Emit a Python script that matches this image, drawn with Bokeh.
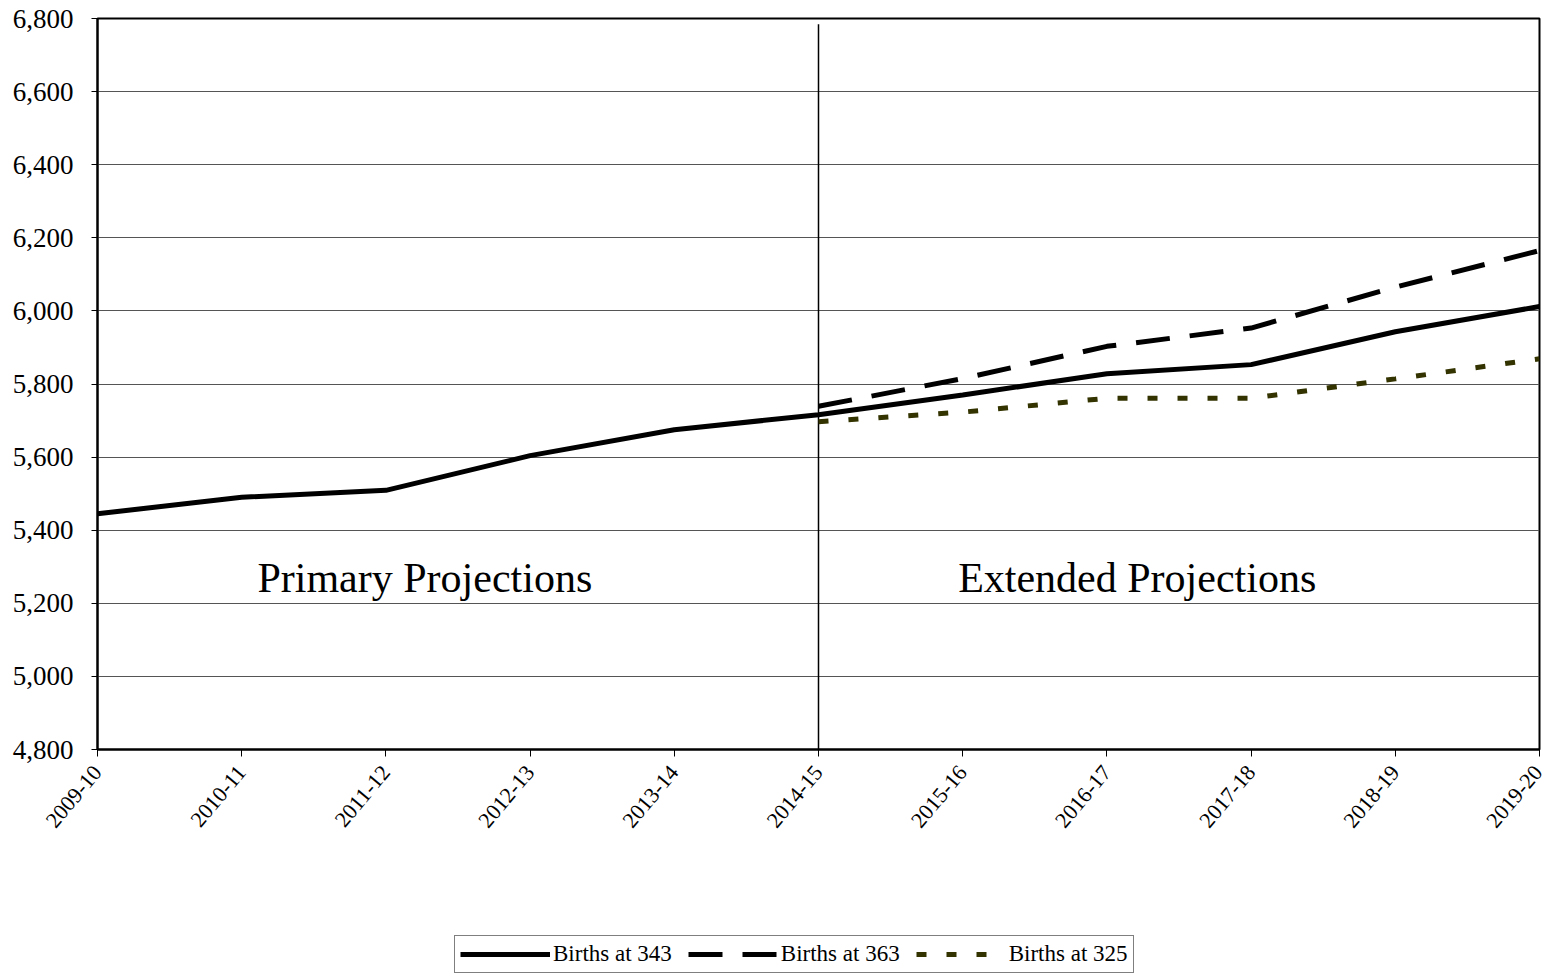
import math
from bokeh.plotting import figure
from bokeh.layouts import column
from bokeh.models import (ColumnDataSource, FixedTicker, Range1d, Legend, LegendItem,
                          NumeralTickFormatter)
from bokeh.core.properties import value
from bokeh.embed import file_html
from bokeh.resources import INLINE

# ---- data ----
years = ["2009-10", "2010-11", "2011-12", "2012-13", "2013-14", "2014-15",
         "2015-16", "2016-17", "2017-18", "2018-19", "2019-20"]
births_343 = [5445, 5490, 5509, 5604, 5675, 5716, 5770, 5828, 5853, 5943, 6012]
ext_years = ["2014-15", "2015-16", "2016-17", "2017-18", "2018-19", "2019-20"]
births_363 = [5739, 5815, 5903, 5953, 6065, 6165]
births_325 = [5697, 5723, 5761, 5761, 5814, 5869]
y_ticks = [4800, 5000, 5200, 5400, 5600, 5800, 6000, 6200, 6400, 6600, 6800]
series_names = ["Births at 343", "Births at 363", "Births at 325"]
section_labels = ["Primary Projections", "Extended Projections"]

FONT = "Liberation Serif"
STYLES = [dict(line_color="black", line_width=5),
          dict(line_color="black", line_width=5, line_dash="34 20"),
          dict(line_color="#333300", line_width=5, line_dash="10 20")]

x_all = list(range(len(years)))
x_ext = [years.index(y) for y in ext_years]

W = 1543
p = figure(width=W, height=930,
           min_border_left=97, min_border_right=4, min_border_top=18, min_border_bottom=181,
           output_backend="svg", toolbar_location=None,
           x_range=Range1d(0, len(years) - 1), y_range=Range1d(y_ticks[0], y_ticks[-1]))

p.background_fill_color = "white"
p.border_fill_color = "white"
p.outline_line_color = "black"
p.outline_line_width = 2

# grid
p.xgrid.grid_line_color = None
p.ygrid.grid_line_color = "#555555"
p.ygrid.grid_line_width = 1
p.ygrid.ticker = FixedTicker(ticks=y_ticks)

# axes
p.xaxis.ticker = FixedTicker(ticks=x_all)
p.xaxis.major_label_overrides = {i: y for i, y in enumerate(years)}
p.xaxis.major_label_orientation = math.radians(50)
p.xaxis.major_label_text_font = FONT
p.xaxis.major_label_text_font_size = "22px"
p.xaxis.major_label_text_color = "black"
p.xaxis.major_label_standoff = 12
p.xaxis.major_tick_out = 7
p.xaxis.major_tick_in = 0
p.xaxis.minor_tick_line_color = None
p.xaxis.axis_line_width = 2
p.xaxis.axis_line_color = "black"
p.xaxis.major_tick_line_color = "black"

p.yaxis.ticker = FixedTicker(ticks=y_ticks)
p.yaxis.formatter = NumeralTickFormatter(format="0,0")
p.yaxis.major_label_text_font = FONT
p.yaxis.major_label_text_font_size = "27px"
p.yaxis.major_label_text_color = "black"
p.yaxis.major_label_standoff = 18
p.yaxis.major_tick_out = 6
p.yaxis.major_tick_in = 0
p.yaxis.minor_tick_line_color = None
p.yaxis.axis_line_width = 2
p.yaxis.axis_line_color = "black"
p.yaxis.major_tick_line_color = "black"

# divider between primary and extended projections
div_x = years.index("2014-15")
p.segment(x0=[div_x], y0=[y_ticks[0]], x1=[div_x], y1=[6784], line_color="black", line_width=1.5)

# series
sources = [ColumnDataSource(dict(x=x_all, y=births_343)),
           ColumnDataSource(dict(x=x_ext, y=births_363)),
           ColumnDataSource(dict(x=x_ext, y=births_325))]
for src, st in zip(sources, STYLES):
    p.line("x", "y", source=src, **st)

# section labels
p.text(x=[2.27, 7.21], y=[5268, 5268], text=section_labels,
       text_font=value(FONT), text_font_size="42px", text_color="black",
       text_align="center", text_baseline="middle")

# ---- legend strip below the chart (same series, drawn outside its view) ----
lg = figure(width=W, height=45, min_border=0, output_backend="svg", toolbar_location=None,
            x_axis_location=None, y_axis_location=None,
            x_range=Range1d(0, 1), y_range=Range1d(0, 1))
lg.xgrid.grid_line_color = None
lg.ygrid.grid_line_color = None
lg.outline_line_color = None
lg.background_fill_color = "white"
lg.border_fill_color = "white"
proxies = [lg.line("x", "y", source=src, **st) for src, st in zip(sources, STYLES)]

legend = Legend(items=[LegendItem(label=n, renderers=[r]) for n, r in zip(series_names, proxies)],
                orientation="horizontal", location=(357, 2),
                label_text_font=FONT, label_text_font_size="23px", label_text_color="black",
                glyph_width=90, glyph_height=22, label_standoff=3, spacing=16,
                padding=5, margin=0, border_line_color="black", border_line_width=1,
                background_fill_color="white", background_fill_alpha=1)
lg.add_layout(legend, "center")

layout = column(p, lg, spacing=0)
open("out.html", "w").write(file_html(layout, INLINE))
